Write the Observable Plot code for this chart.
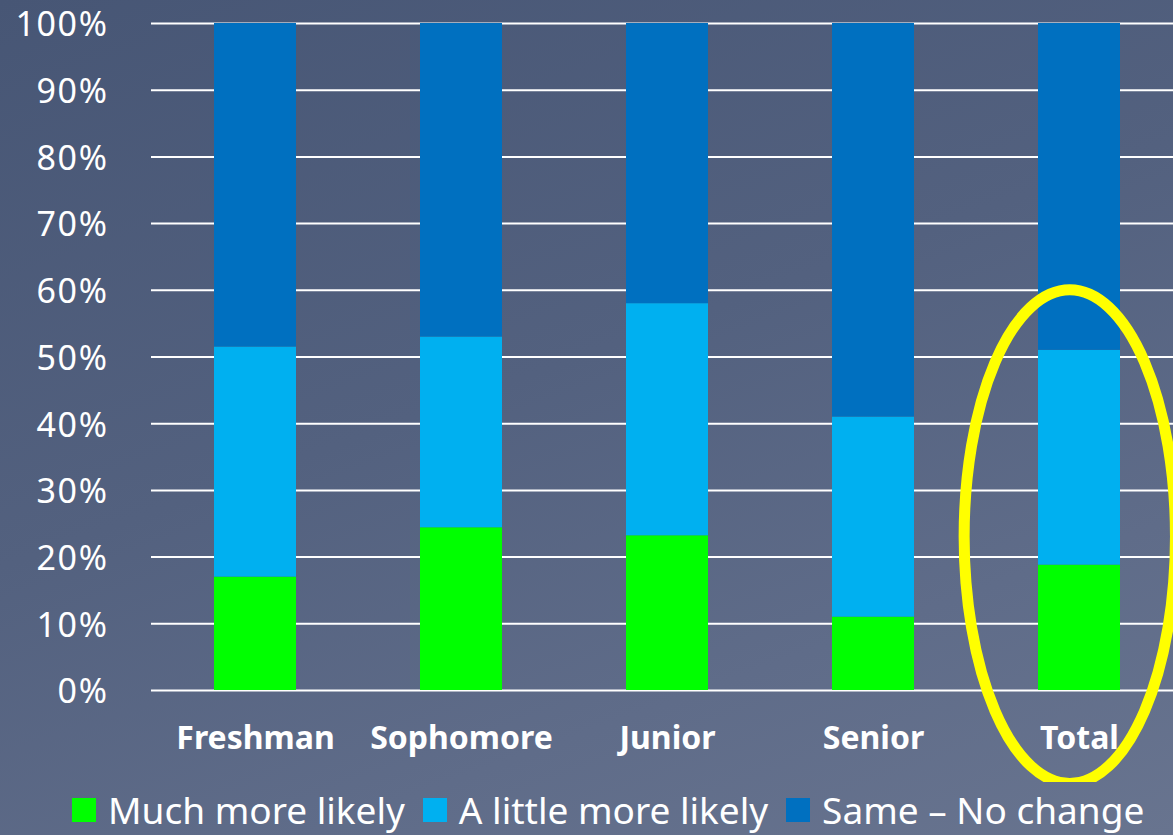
<!DOCTYPE html>
<html>
<head>
<meta charset="utf-8">
<script src="https://cdn.jsdelivr.net/npm/d3@7"></script>
<script src="https://cdn.jsdelivr.net/npm/@observablehq/plot@0.6"></script>
<style>
  html, body { margin: 0; padding: 0; }
  body {
    width: 1173px; height: 835px; overflow: hidden; position: relative;
    background: linear-gradient(160deg, #475675 0%, #53617f 45%, #5f6c89 75%, #68748f 100%);
    font-family: "Noto Sans", "Open Sans", sans-serif;
    color: #fff;
  }
  #chart { position: absolute; left: 0; top: 0; }
  #legend {
    position: absolute; left: 72px; top: 784px; display: flex; align-items: center;
    font-size: 37px; white-space: nowrap; color: #fff;
  }
  #legend .item { display: flex; align-items: center; margin-right: 18px; }
  #legend .sw { width: 24px; height: 24px; margin-right: 12px; display: inline-block; }
</style>
</head>
<body>
<div id="chart"></div>
<div id="legend"></div>
<script>
const categories = ["Freshman", "Sophomore", "Junior", "Senior", "Total"];
const series = ["Much more likely", "A little more likely", "Same – No change"];
const muchMore = [17.0, 24.4, 23.2, 11.0, 18.8];
const littleMore = [34.5, 28.6, 34.8, 30.0, 32.2];
const sameNoChange = [48.5, 47.0, 42.0, 59.0, 49.0];
const yTicks = [0, 10, 20, 30, 40, 50, 60, 70, 80, 90, 100];
const colors = ["#00ff00", "#00b0f0", "#0070c0"];

const values = [muchMore, littleMore, sameNoChange];
const data = [];
series.forEach((s, si) => {
  categories.forEach((c, ci) => data.push({category: c, series: s, value: values[si][ci]}));
});

const chart = Plot.plot({
  width: 1173,
  height: 782,
  marginLeft: 151,
  marginRight: 0,
  marginTop: 23,
  marginBottom: 92,
  style: {background: "transparent", color: "#fff", fontFamily: "'Noto Sans', 'Open Sans', sans-serif", overflow: "hidden"},
  x: {domain: categories, range: [151, 1183], paddingInner: 0.6, paddingOuter: 0.3, label: null},
  y: {domain: [0, 100], label: null},
  color: {domain: series, range: colors},
  marks: [
    Plot.ruleY(yTicks, {stroke: "#ffffff", strokeWidth: 2}),
    Plot.barY(data, {x: "category", y: "value", fill: "series"}),
    Plot.axisY(yTicks, {tickSize: 0, tickPadding: 43, tickFormat: d => d + "%", fontSize: 34, dy: 2, fill: "#fff", label: null}),
    Plot.axisX({tickSize: 0, tickPadding: 36, fontSize: 32, fontWeight: "bold", fill: "#fff", label: null})
  ]
});
document.getElementById("chart").appendChild(chart);
d3.select(chart).selectAll('g[aria-label="y-axis tick label"] text').style("letter-spacing", "1.6px");

// Highlight ellipse around "Total", positioned with the chart's own scales
const sx = chart.scale("x");
const sy = chart.scale("y");
const xScale = d3.scaleBand(sx.domain, sx.range).paddingInner(sx.paddingInner).paddingOuter(sx.paddingOuter).align(sx.align ?? 0.5);
const yScale = d3.scaleLinear(sy.domain, sy.range);
const bw = xScale.bandwidth();
d3.select(chart).append("ellipse")
  .attr("cx", xScale("Total") + bw / 2 - 10)
  .attr("cy", yScale(23))
  .attr("rx", bw * 1.28)
  .attr("ry", yScale(0) - yScale(37))
  .attr("fill", "none")
  .attr("stroke", "#ffff00")
  .attr("stroke-width", 11);

const legend = document.getElementById("legend");
series.forEach((s, i) => {
  const item = document.createElement("div");
  item.className = "item";
  item.innerHTML = `<span class="sw" style="background:${colors[i]}"></span><span>${s}</span>`;
  legend.appendChild(item);
});
</script>
</body>
</html>
